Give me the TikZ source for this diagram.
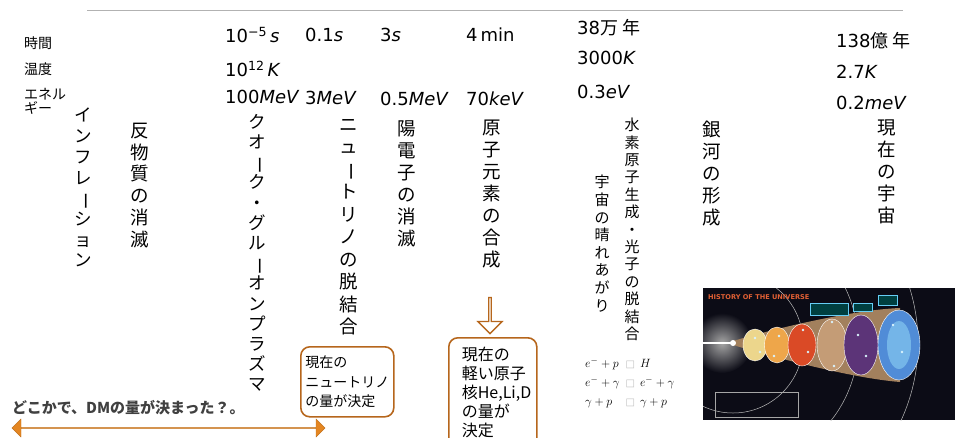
\documentclass[tikz,border=0pt]{standalone}
\usepackage{fontspec}
\setmainfont{DejaVu Sans}
\newfontfamily\jp{Noto Sans CJK JP}
\usetikzlibrary{shapes.arrows}

\definecolor{ochre}{RGB}{182,102,28}
\definecolor{dmorange}{RGB}{228,134,34}
\definecolor{space}{RGB}{12,12,22}
\definecolor{era1}{RGB}{236,214,140}
\definecolor{era2}{RGB}{238,166,74}
\definecolor{era3}{RGB}{218,74,38}
\definecolor{era4}{RGB}{196,156,118}
\definecolor{era5}{RGB}{92,52,120}
\definecolor{era6}{RGB}{80,140,215}

% long vowel mark standing upright in a vertical column
\newcommand{\chouon}{\rotatebox[origin=c]{-90}{ー}}
\newcommand{\tofu}{{\color{black!25}\fontsize{10}{10}\selectfont □}}

\tikzset{
  era/.style={anchor=west, inner sep=0pt, font=\fontsize{18}{20}\selectfont},
  rowname/.style={anchor=west, inner sep=0pt, align=left, font=\jp\fontsize{14}{14}\selectfont},
  tate/.style={anchor=north, inner sep=0pt, align=center, font=\jp\fontsize{18.5}{22}\selectfont},
  tate small/.style={tate, font=\jp\fontsize{15}{17.4}\selectfont},
  kekka/.style={draw=ochre, line width=1.6pt, rounded corners=9pt, anchor=north west,
    align=left, font=\jp\fontsize{14}{19.5}\selectfont},
}

\begin{document}
\begin{tikzpicture}[x=1pt, y=-1pt]
    \useasboundingbox (0,0) rectangle (969,437);
    \coordinate (rule l) at (87,10);
    \coordinate (rule r) at (903,10);
    \draw [black!30, line width=1pt] (rule l) -- (rule r);

    % row names
    \path (24,43) node [rowname] (jikan) {時間};
    \path (24,69) node [rowname] (ondo) {温度};
    \path (24,101) node [rowname] (energy) {エネル\\ギー};

    % time, temperature, energy of each era
    \path (225,35) node [era] (t1) {10\textsuperscript{−5}\,\textit{s}};
    \path (225,69) node [era] (k1) {10\textsuperscript{12}\,\textit{K}};
    \path (225,97) node [era] (e1) {100\textit{MeV}};
    \path (305,35) node [era] (t2) {0.1\textit{s}};
    \path (305,98) node [era] (e2) {3\textit{MeV}};
    \path (380,35) node [era] (t3) {3\textit{s}};
    \path (380,99) node [era] (e3) {0.5\textit{MeV}};
    \path (466,35) node [era] (t4) {4\,min};
    \path (466,99) node [era] (e4) {70\textit{keV}};
    \path (577,28) node [era] (t5) {38{\jp 万 年}};
    \path (577,58) node [era] (k5) {3000\textit{K}};
    \path (577,92) node [era] (e5) {0.3\textit{eV}};
    \path (836,41) node [era] (t6) {138{\jp 億 年}};
    \path (836,72) node [era] (k6) {2.7\textit{K}};
    \path (836,103) node [era] (e6) {0.2\textit{meV}};

    % events, written top to bottom
    \path (83,108) node [tate, font=\jp\fontsize{17.5}{20.7}\selectfont] (inflation)
	{イ\\ン\\フ\\レ\\\chouon\\シ\\ョ\\ン};
    \path (140,123) node [tate, font=\jp\fontsize{18.5}{21.7}\selectfont] (antimatter)
	{反\\物\\質\\の\\消\\滅};
    \path (257,114) node [tate, font=\jp\fontsize{17.5}{20.2}\selectfont] (qgp)
	{ク\\オ\\\chouon\\ク\\・\\グ\\ル\\\chouon\\オ\\ン\\プ\\ラ\\ズ\\マ};
    \path (349,119) node [tate, font=\jp\fontsize{18.5}{22.5}\selectfont] (nudec)
	{ニ\\ュ\\\chouon\\ト\\リ\\ノ\\の\\脱\\結\\合};
    \path (407,120) node [tate] (positron) {陽\\電\\子\\の\\消\\滅};
    \path (492,120) node [tate] (bbn) {原\\子\\元\\素\\の\\合\\成};
    \path (602,175) node [tate small, font=\jp\fontsize{15}{17.6}\selectfont] (clear)
	{宇\\宙\\の\\晴\\れ\\あ\\が\\り};
    \path (632,118) node [tate small] (recomb)
	{水\\素\\原\\子\\生\\成\\・\\光\\子\\の\\脱\\結\\合};
    \path (712,121) node [tate] (galaxy) {銀\\河\\の\\形\\成};
    \path (887,120) node [tate] (today) {現\\在\\の\\宇\\宙};

    % what was fixed
    \path (300,346) node [kekka, minimum width=93pt, minimum height=70pt,
	inner xsep=3pt] (nubox) {現在の\\ニュートリノ\\の量が決定};
    \path (448,337) node [kekka, minimum width=87pt, minimum height=110pt,
	inner xsep=13pt, font=\jp\fontsize{16}{19}\selectfont, text width=62pt]
	(nucbox) {現在の\\軽い原子\\核He,Li,D\\の量が\\決定};
    \path (490,315) node [single arrow, draw=ochre, fill=white, line width=1.3pt,
	rotate=-90, minimum height=36pt, minimum width=24pt,
	single arrow head extend=6pt, inner sep=0pt] (down) {};

    % recombination reactions
    \path (585,354) node [anchor=north west, inner sep=0pt,
	font=\fontsize{13}{19}\selectfont] (reactions)
	{\begin{tabular}{@{}l@{\hspace{6pt}}l@{\hspace{5pt}}l@{}}
	$e^{-}+p$ & \tofu & $H$\\
	$e^{-}+\gamma$ & \tofu & $e^{-}+\gamma$\\
	$\gamma+p$ & \tofu & $\gamma+p$
	\end{tabular}};

    % dark matter
    \path (12,408) node [anchor=west, inner sep=0pt, text=black!75,
	font=\jp\bfseries\fontsize{15}{16}\selectfont] (dm) {どこかで、DMの量が決まった？。};
    \path (168.5,428) node [double arrow, fill=dmorange, draw=dmorange!85!black,
	line width=0.4pt, minimum width=18pt, minimum height=313pt,
	double arrow head extend=5pt, inner sep=0pt] (dmrange) {};

    % history of the universe
    \begin{scope}
	\clip (703,288) rectangle (955,420);
	\fill [space] (703,288) rectangle (955,420);
	\shade [inner color=gray!70, outer color=space] (722,343) circle (30pt);
	\foreach \r in {70,125,185}
	    \draw [gray!55, line width=0.5pt] (733,343) circle (\r pt);
	\fill [white] (703,342) rectangle (733,344);
	\fill [brown!55!gray] (733,341) .. controls (770,330) and (850,310) .. (900,308)
	    -- (900,382) .. controls (850,378) and (770,356) .. (733,345) -- cycle;
	\foreach \cx/\rx/\ry/\c in {755/12/16/era1, 777/12.5/18/era2, 802/14/21/era3,
	    832/15/26/era4, 861/17/30/era5, 899/21/35/era6}
	    \fill [\c, draw=white!70, line width=0.4pt] (\cx,345)
		ellipse [x radius=\rx pt, y radius=\ry pt];
	\fill [white] (733,343) circle (3pt);
	\fill [cyan!40!white, opacity=0.5] (899,345) ellipse [x radius=12pt, y radius=24pt];
	\foreach \sx/\sy in {755/338, 760/352, 779/336, 774/356, 803/330, 808/352,
	    832/322, 834/366, 858/335, 866/356, 893/325, 902/352}
	    \fill [white!85!cyan] (\sx,\sy) circle (1.4pt);
	\fill [teal!50!black, draw=cyan!60, line width=0.3pt] (810,303) rectangle (848,315);
	\fill [teal!50!black, draw=cyan!60, line width=0.3pt] (853,303) rectangle (872,311);
	\fill [teal!50!black, draw=cyan!60, line width=0.3pt] (878,295) rectangle (897,305);
	\draw [gray!70, line width=0.3pt] (715,392) rectangle (798,417);
    \end{scope}
    \path (708,297) node [anchor=west, inner sep=0pt, text={rgb,255:red,226;green,96;blue,52},
	font=\bfseries\fontsize{6.6}{7}\selectfont] (histtitle) {HISTORY OF THE UNIVERSE};
\end{tikzpicture}
\end{document}
